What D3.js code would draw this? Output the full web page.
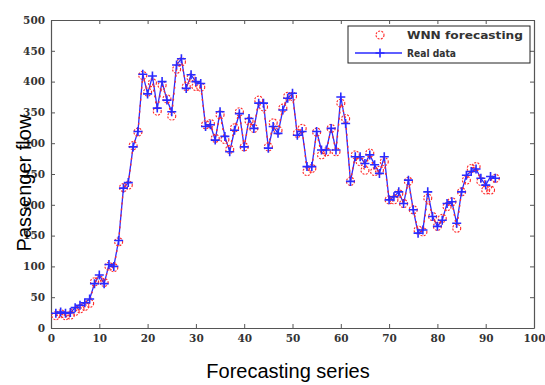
<!DOCTYPE html>
<html>
<head>
<meta charset="utf-8">
<script src="https://cdn.jsdelivr.net/npm/d3@7"></script>
<style>
  body { margin: 0; background: #fff; }
  .tick-label { font-family: "DejaVu Serif", serif; font-weight: bold; font-size: 10.5px; fill: #333; }
</style>
</head>
<body>
<div class="chart-container"></div>
<script>
const seriesIndex = d3.range(1, 93);
const realData = [
  24, 26, 24, 25, 33, 37, 41, 47, 72, 86,
  72, 103, 100, 142, 227, 236, 294, 319, 412, 380,
  409, 357, 400, 370, 351, 427, 437, 389, 411, 400,
  397, 327, 330, 305, 351, 311, 286, 321, 348, 294,
  340, 324, 365, 365, 292, 327, 316, 354, 373, 381,
  313, 319, 262, 262, 319, 289, 289, 324, 289, 375,
  332, 238, 278, 278, 267, 281, 265, 251, 278, 208,
  213, 221, 202, 240, 192, 154, 159, 221, 181, 165,
  175, 202, 205, 170, 221, 248, 254, 258, 243, 232,
  246, 243
];
const wnnForecast = [
  20, 23, 20, 21, 27, 31, 35, 40, 75, 78,
  74, 100, 98, 140, 228, 232, 296, 318, 410, 383,
  398, 352, 394, 372, 344, 420, 432, 392, 406, 392,
  391, 330, 332, 308, 346, 306, 290, 325, 351, 294,
  336, 324, 370, 359, 294, 333, 321, 357, 376, 376,
  316, 324, 254, 259, 318, 281, 286, 324, 286, 365,
  340, 238, 281, 270, 256, 284, 254, 256, 270, 208,
  208, 218, 202, 238, 192, 159, 156, 211, 181, 165,
  178, 197, 205, 162, 221, 240, 259, 262, 238, 224,
  224, 243
];
const xTicks = [0, 10, 20, 30, 40, 50, 60, 70, 80, 90, 100];
const yTicks = [0, 50, 100, 150, 200, 250, 300, 350, 400, 450, 500];
const legendLabels = ['WNN forecasting', 'Real data'];

const width = 545, height = 385;
const margin = {top: 20, right: 11, bottom: 57, left: 51};
const red = '#ff2a2a', blue = '#2a2aff';

const svg = d3.select('.chart-container')
  .append('svg')
  .attr('width', width)
  .attr('height', height);

const x = d3.scaleLinear().domain([0, 100]).range([margin.left, width - margin.right]);
const y = d3.scaleLinear().domain([0, 500]).range([height - margin.bottom, margin.top]);

// Axes with inward ticks on all four sides
svg.append('g')
  .attr('transform', `translate(0,${y(0)})`)
  .call(d3.axisBottom(x).tickValues(xTicks).tickSizeInner(-4).tickSizeOuter(0).tickPadding(7));
svg.append('g')
  .attr('transform', `translate(${x(0)},0)`)
  .call(d3.axisLeft(y).tickValues(yTicks).tickSizeInner(-4).tickSizeOuter(0).tickPadding(6));
svg.append('g')
  .attr('transform', `translate(0,${y(500)})`)
  .call(d3.axisTop(x).tickValues(xTicks).tickSizeInner(-4).tickSizeOuter(0).tickFormat(''));
svg.append('g')
  .attr('transform', `translate(${x(100)},0)`)
  .call(d3.axisRight(y).tickValues(yTicks).tickSizeInner(-4).tickSizeOuter(0).tickFormat(''));

svg.selectAll('.domain').attr('stroke', '#555').attr('stroke-width', 1.2);
svg.selectAll('.tick line').attr('stroke', '#555');
svg.selectAll('.tick text').attr('class', 'tick-label').attr('font-family', null).attr('font-size', null).attr('fill', null);

// Real data line with plus markers
const real = seriesIndex.map((d, i) => ({i: d, v: realData[i]}));
const wnn = seriesIndex.map((d, i) => ({i: d, v: wnnForecast[i]}));
const line = d3.line().x(d => x(d.i)).y(d => y(d.v));

svg.append('path')
  .datum(real)
  .attr('d', line)
  .attr('fill', 'none')
  .attr('stroke', blue)
  .attr('stroke-width', 1.3);

// WNN forecast dashed line on top
svg.append('path')
  .datum(wnn)
  .attr('d', line)
  .attr('fill', 'none')
  .attr('stroke', red)
  .attr('stroke-width', 1.3)
  .attr('stroke-dasharray', '2,4');

svg.selectAll('.wnn-marker')
  .data(wnn)
  .enter()
  .append('circle')
  .attr('class', 'wnn-marker')
  .attr('cx', d => x(d.i))
  .attr('cy', d => y(d.v))
  .attr('r', 4)
  .attr('fill', 'none')
  .attr('stroke', red)
  .attr('stroke-width', 1.1)
  .attr('stroke-dasharray', '2,1.3');

svg.selectAll('.real-marker')
  .data(real)
  .enter()
  .append('path')
  .attr('class', 'real-marker')
  .attr('transform', d => `translate(${x(d.i)},${y(d.v)})`)
  .attr('d', 'M-4.5,0H4.5M0,-4.5V4.5')
  .attr('stroke', blue)
  .attr('stroke-width', 1.6);

// Axis titles
svg.append('text')
  .attr('x', 288)
  .attr('y', 378)
  .attr('text-anchor', 'middle')
  .attr('font-family', 'Liberation Sans, Arial, sans-serif')
  .attr('font-size', 20)
  .attr('fill', '#000')
  .text('Forecasting series');

svg.append('text')
  .attr('transform', 'translate(31,183) rotate(-90)')
  .attr('text-anchor', 'middle')
  .attr('font-family', 'Liberation Sans, Arial, sans-serif')
  .attr('font-size', 20)
  .attr('fill', '#000')
  .text('Passenger flow');

// Legend
const legend = svg.append('g').attr('transform', 'translate(348,26)');
legend.append('rect')
  .attr('width', 182)
  .attr('height', 37)
  .attr('fill', '#fff')
  .attr('stroke', '#222')
  .attr('stroke-width', 1);

legend.append('circle')
  .attr('cx', 32).attr('cy', 9).attr('r', 4)
  .attr('fill', 'none')
  .attr('stroke', red)
  .attr('stroke-width', 1.1)
  .attr('stroke-dasharray', '2,1.3');
legend.append('line')
  .attr('x1', 7).attr('x2', 54).attr('y1', 27).attr('y2', 27)
  .attr('stroke', blue).attr('stroke-width', 1.3);
legend.append('path')
  .attr('transform', 'translate(32,27)')
  .attr('d', 'M-4.5,0H4.5M0,-4.5V4.5')
  .attr('stroke', blue)
  .attr('stroke-width', 1.6);

const legendWidths = [116, 49];
legend.selectAll('.legend-label')
  .data(legendLabels)
  .enter()
  .append('text')
  .attr('class', 'legend-label')
  .attr('x', 59)
  .attr('y', (d, i) => 13 + i * 18)
  .attr('font-family', 'DejaVu Sans, sans-serif')
  .attr('font-weight', 'bold')
  .attr('font-size', 10.5)
  .attr('fill', '#333')
  .attr('textLength', (d, i) => legendWidths[i])
  .attr('lengthAdjust', 'spacingAndGlyphs')
  .text(d => d);
</script>
</body>
</html>
